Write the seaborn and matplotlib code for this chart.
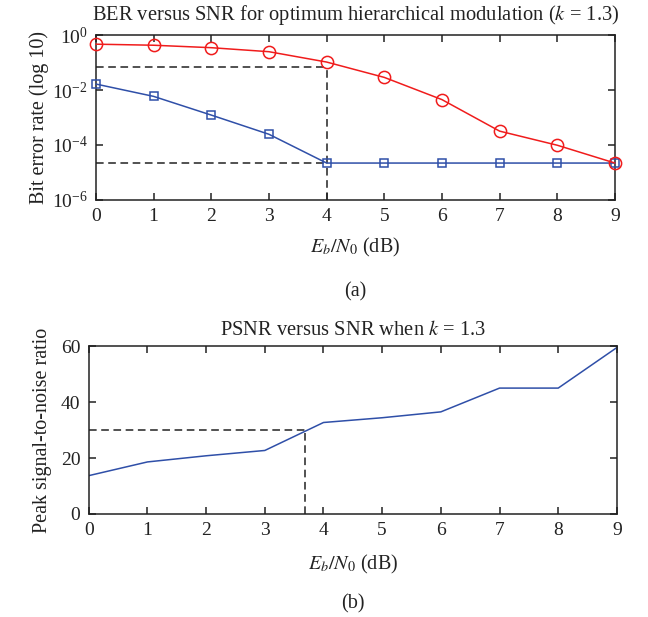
import numpy as np
import pandas as pd
import matplotlib
matplotlib.use("Agg")
import matplotlib.pyplot as plt
import seaborn as sns

# ---- data ----
snr = [0, 1, 2, 3, 4, 5, 6, 7, 8, 9]
ber_red = [0.47, 0.43, 0.35, 0.25, 0.105, 0.029, 0.0045, 3.2e-4, 9.8e-5, 2.2e-5]
ber_blue = [0.0166, 5.9e-3, 1.23e-3, 2.46e-4, 2.2e-5, 2.2e-5, 2.2e-5, 2.2e-5, 2.2e-5, 2.2e-5]
psnr = [13.7, 18.6, 20.8, 22.7, 32.7, 34.4, 36.5, 45.0, 45.0, 59.5]
ber_ref_x = 4
ber_ref_red = 0.07
ber_ref_blue = 2.2e-5
psnr_ref_x = 3.69
psnr_ref_y = 30.0
x_ticks = [0, 1, 2, 3, 4, 5, 6, 7, 8, 9]
psnr_ticks = [0, 20, 40, 60]
ber_ticks = [1e0, 1e-2, 1e-4, 1e-6]

sns.set_style("ticks")
plt.rcParams["font.family"] = ["Liberation Serif", "DejaVu Serif"]
plt.rcParams["mathtext.fontset"] = "stix"
plt.rcParams["font.size"] = 13.5

RED = "#f01c1c"
BLUE = "#2f4fa8"
DASH = "#222222"
TXT = "#222222"
TITLE_FS = 14.8
LABEL_FS = 14.5
TICK_FS = 14

fig = plt.figure(figsize=(6.48, 6.17), dpi=100)
ax1 = fig.add_axes([0.148, 0.676, 0.801, 0.267])
ax2 = fig.add_axes([0.137, 0.167, 0.815, 0.272])

df = pd.DataFrame({"snr": snr, "red": ber_red, "blue": ber_blue, "psnr": psnr})

# ---- top panel ----
ax1.plot([0, ber_ref_x], [ber_ref_red, ber_ref_red], ls=(0, (5, 3)), color=DASH, lw=1.1)
ax1.plot([0, ber_ref_x], [ber_ref_blue, ber_ref_blue], ls=(0, (5, 3)), color=DASH, lw=1.1)
ax1.plot([ber_ref_x, ber_ref_x], [1e-6, ber_ref_red], ls=(0, (5, 3)), color=DASH, lw=1.1)
sns.lineplot(data=df, x="snr", y="blue", ax=ax1, color=BLUE, lw=1.1, marker="s",
             markersize=6, markerfacecolor="none", markeredgecolor=BLUE,
             markeredgewidth=1.1, clip_on=False, zorder=3)
sns.lineplot(data=df, x="snr", y="red", ax=ax1, color=RED, lw=1.1, marker="o",
             markersize=8.8, markerfacecolor="none", markeredgecolor=RED,
             markeredgewidth=1.1, clip_on=False, zorder=4)
ax1.set_yscale("log")
ax1.set_ylim(1e-6, 1e0)
ax1.set_xlim(0, 9)
ax1.set_yticks(ber_ticks)
ax1.yaxis.set_minor_locator(matplotlib.ticker.NullLocator())
ax1.set_xticks(x_ticks)
ax1.set_title("BER versus SNR for optimum hierarchical modulation ($k$ = 1.3)",
              fontsize=TITLE_FS, color=TXT, pad=11)
ax1.set_xlabel("$E_b/N_0$ (dB)", fontsize=LABEL_FS, color=TXT, labelpad=8)
ax1.set_ylabel("Bit error rate (log 10)", fontsize=LABEL_FS, color=TXT, labelpad=2)
ax1.text(0.5, -0.5, "(a)", transform=ax1.transAxes, ha="center", va="top",
         fontsize=LABEL_FS, color=TXT)

# ---- bottom panel ----
ax2.plot([0, psnr_ref_x], [psnr_ref_y, psnr_ref_y], ls=(0, (5, 3)), color=DASH, lw=1.1)
ax2.plot([psnr_ref_x, psnr_ref_x], [0, psnr_ref_y], ls=(0, (5, 3)), color=DASH, lw=1.1)
sns.lineplot(data=df, x="snr", y="psnr", ax=ax2, color=BLUE, lw=1.1)
ax2.set_xlim(0, 9)
ax2.set_ylim(0, 60)
ax2.set_xticks(x_ticks)
ax2.set_yticks(psnr_ticks)
ax2.set_title("PSNR versus SNR when $k$ = 1.3", fontsize=TITLE_FS, color=TXT, pad=8)
ax2.set_xlabel("$E_b/N_0$ (dB)", fontsize=LABEL_FS, color=TXT, labelpad=10)
ax2.set_ylabel("Peak signal-to-noise ratio", fontsize=LABEL_FS, color=TXT, labelpad=6)
ax2.text(0.5, -0.48, "(b)", transform=ax2.transAxes, ha="center", va="top",
         fontsize=LABEL_FS, color=TXT)

for ax in (ax1, ax2):
    ax.tick_params(direction="in", top=True, right=True, length=5, width=1.1,
                   labelsize=TICK_FS, colors=TXT, pad=6)
    for s in ax.spines.values():
        s.set_linewidth(1.1)
        s.set_color(TXT)

fig.savefig("out.png", dpi=100)
